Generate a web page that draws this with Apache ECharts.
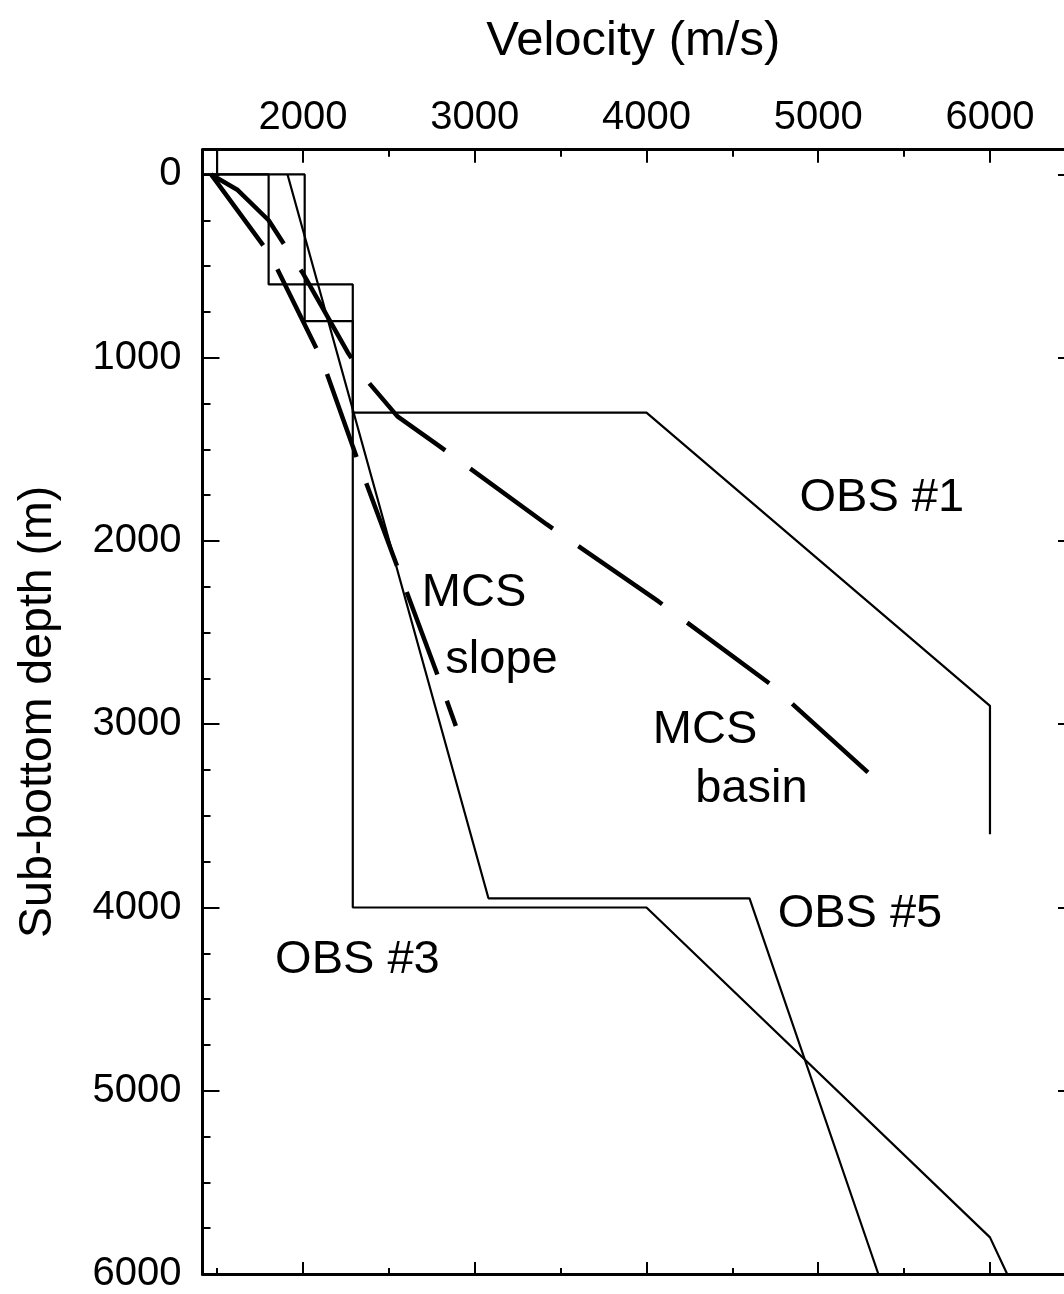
<!DOCTYPE html>
<html>
<head>
<meta charset="utf-8">
<title>Velocity–depth profiles</title>
<script src="https://cdn.jsdelivr.net/npm/echarts@6/dist/echarts.min.js"></script>
<style>
  html, body { margin: 0; padding: 0; background: #fff; }
  #chart { width: 1064px; height: 1294px; }
</style>
</head>
<body>
<div id="chart"></div>
<script>
// Velocity (m/s) vs sub-bottom depth (m): [velocity, depth] pairs
const waterColumn = [[1500, -135], [1500, 0]];
const obs1 = [[1420, 0], [1800, 0], [1800, 600], [2290, 600], [2290, 1300],
              [4000, 1300], [6000, 2900], [6000, 3600]];
const obs3 = [[1420, 0], [2010, 0], [2010, 800], [2290, 800], [2290, 4000],
              [4000, 4000], [6000, 5800], [6100, 6000]];
const obs5 = [[1910, 0], [3080, 3950], [4600, 3950], [5350, 6000]];
const mcsSlope = [[1465, 0], [1810, 440], [2110, 1010], [2315, 1550],
                  [2785, 2735], [2890, 3010]];
const mcsBasin = [[1465, 0], [1620, 85], [1800, 250], [2000, 540], [2260, 970],
                  [2350, 1100], [2550, 1320], [2790, 1480], [3420, 1910],
                  [4070, 2330], [4720, 2780], [5310, 3280]];

// Curve labels: [velocity, depth, text]
const curveLabels = [
  [5370, 1767, 'OBS #1'],
  [2996, 2283, 'MCS'],
  [3156, 2648, 'slope'],
  [4341, 3034, 'MCS'],
  [4611, 3355, 'basin'],
  [5243, 4035, 'OBS #5'],
  [2317, 4286, 'OBS #3']
];

// Axis ranges and tick values
const velocityRange = [1415, 6431];
const depthRange = [-135, 6000];
const velocityMajor = [2000, 3000, 4000, 5000, 6000];
const velocityMinor = [1500, 2500, 3500, 4500, 5500];
const depthMajor = [0, 1000, 2000, 3000, 4000, 5000, 6000];
const depthMinor = [250, 500, 750, 1250, 1500, 1750, 2250, 2500, 2750, 3250, 3500,
                    3750, 4250, 4500, 4750, 5250, 5500, 5750];
const depthRightTicks = [0, 1000, 2000, 3000, 4000, 5000];

const FONT = '"Liberation Sans", Arial, Helvetica, sans-serif';
const INK = '#000';
const plain = v => String(v);

function xAxisDef(pos, ticks, len, withLine, withLabels) {
  return {
    type: 'value', position: pos,
    min: velocityRange[0], max: velocityRange[1],
    splitLine: { show: false },
    axisLine: { show: withLine, onZero: false, lineStyle: { color: INK, width: 3 } },
    axisTick: { show: true, inside: true, length: len, customValues: ticks,
                lineStyle: { color: INK, width: 2 } },
    axisLabel: withLabels
      ? { show: true, customValues: velocityMajor, formatter: plain, fontSize: 40,
          fontFamily: FONT, color: INK, margin: 12 }
      : { show: false }
  };
}

function yAxisDef(pos, ticks, len, withLine, withLabels) {
  return {
    type: 'value', position: pos, inverse: true,
    min: depthRange[0], max: depthRange[1],
    splitLine: { show: false },
    axisLine: { show: withLine, onZero: false, lineStyle: { color: INK, width: 3 } },
    axisTick: { show: true, inside: true, length: len, customValues: ticks,
                lineStyle: { color: INK, width: 2 } },
    axisLabel: withLabels
      ? { show: true, customValues: depthMajor, formatter: plain, fontSize: 40,
          fontFamily: FONT, color: INK, margin: 21 }
      : { show: false }
  };
}

const xAxes = [
  Object.assign(xAxisDef('top', velocityMajor, 13, true, true), {
    name: 'Velocity (m/s)', nameLocation: 'middle', nameGap: 84,
    nameTextStyle: { fontSize: 49, fontFamily: FONT, color: INK }
  }),
  xAxisDef('top', velocityMinor, 7, false, false),
  xAxisDef('bottom', velocityMajor, 12, true, false),
  xAxisDef('bottom', velocityMinor, 6, false, false)
];

const yAxes = [
  Object.assign(yAxisDef('left', depthMajor, 17, true, true), {
    name: 'Sub-bottom depth (m)', nameLocation: 'middle', nameGap: 141,
    nameRotate: 90,
    nameTextStyle: { fontSize: 46.5, fontFamily: FONT, color: INK }
  }),
  yAxisDef('left', depthMinor, 8, false, false),
  // right frame edge sits at the canvas edge; only its inward ticks show
  yAxisDef('right', depthRightTicks, 6, false, false)
];

function profile(data, width, dash) {
  return {
    type: 'line', data: data, xAxisIndex: 0, yAxisIndex: 0,
    showSymbol: false, symbol: 'none', silent: true, animation: false,
    lineStyle: { color: INK, width: width, type: dash || 'solid', cap: 'butt' }
  };
}

const chart = echarts.init(document.getElementById('chart'), null, { renderer: 'canvas' });
chart.setOption({
  backgroundColor: '#fff',
  animation: false,
  grid: { left: 202.5, top: 149.7, right: 0, bottom: 17, containLabel: false },
  xAxis: xAxes,
  yAxis: yAxes,
  series: [
    profile(waterColumn, 2.2),
    profile(obs1, 2.2),
    profile(obs3, 2.2),
    profile(obs5, 2.2),
    profile(mcsSlope, 4.5, [88, 28]),
    profile(mcsBasin, 4.5, [102, 31]),
    {
      type: 'scatter', xAxisIndex: 0, yAxisIndex: 0, symbolSize: 0, silent: true,
      itemStyle: { color: INK, opacity: 1 },
      data: curveLabels.map(d => ({ value: [d[0], d[1]], name: d[2] })),
      label: {
        show: true, position: 'inside', formatter: p => p.name,
        fontSize: 47, fontFamily: FONT, color: INK,
        textBorderWidth: 0, textBorderColor: 'transparent'
      }
    }
  ]
});
</script>
</body>
</html>
